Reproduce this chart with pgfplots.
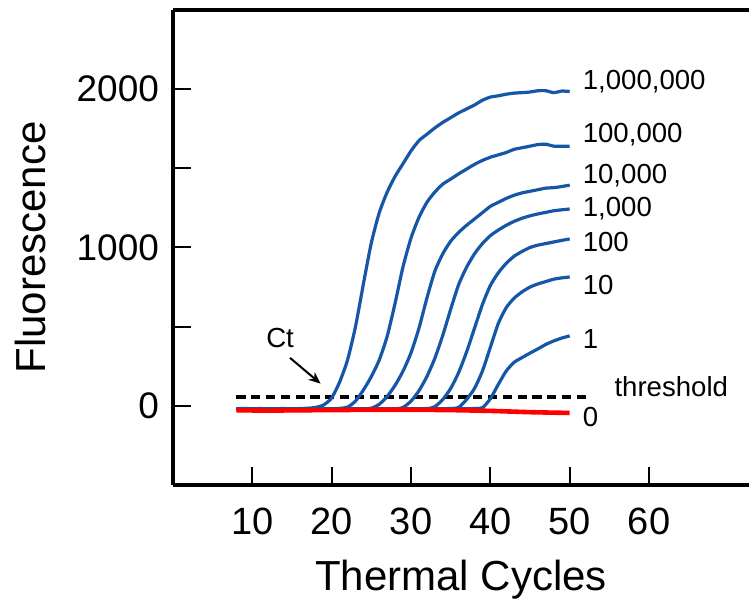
\documentclass[border=0pt]{standalone}
\usepackage{pgfplots}
\pgfplotsset{compat=1.18}
\usetikzlibrary{arrows.meta}
\usepackage{fontspec}
\setmainfont{Liberation Sans}
\definecolor{qblue}{RGB}{22,86,166}
\definecolor{qred}{RGB}{255,0,0}
\begin{document}
\begin{tikzpicture}
\begin{axis}[
  scale only axis, width=288pt, height=237.5pt,
  xmin=0, xmax=72.6, ymin=-500, ymax=2500,
  axis y line=left, y axis line style={-},
  axis line style={line width=1.6pt, black},
  xtick={10,20,30,40,50,60}, xtick pos=bottom,
  ytick={0,500,1000,1500,2000}, yticklabels={0,,1000,,2000}, ytick pos=left,
  tick align=inside, major tick length=9pt,
  tick style={black, line width=1pt},
  /pgf/number format/assume math mode=true,
  xticklabel style={font=\fontsize{19}{21}\selectfont, yshift=-8pt},
  yticklabel style={font=\fontsize{18.5}{20}\selectfont, xshift=-3.5pt},
  xlabel={Thermal Cycles}, ylabel={Fluorescence},
  xlabel style={font=\fontsize{21}{24}\selectfont, at={(axis description cs:0.5,-0.2)}, anchor=center},
  ylabel style={font=\fontsize{21}{24}\selectfont, at={(axis description cs:-0.248,0.5)}, anchor=center, rotate=0},
  clip=false,
]
\coordinate (bbsw) at (rel axis cs:0,0);
\coordinate (bbne) at (rel axis cs:1,1);
% threshold
\addplot[black, line width=1.8pt, dash pattern=on 4.6pt off 2.8pt] coordinates {(8,55) (52.6,55)};
% 1,000,000
\addplot[qblue, line width=1.6pt, smooth, tension=0.4] coordinates {
(8,-18) (9,-16) (10,-19) (11,-17) (12,-19) (13,-18) (14,-17) (15,-19) (16,-17) (17,-15) (18,-10) (19,6) (20,50) (21,150) (22,290) (23,500) (24,770) (25,1030) (26,1220) (27,1350) (28,1450) (29,1530) (30,1610) (31,1675) (32,1715) (33,1755) (34,1790) (35,1820) (36,1850) (37,1875) (38,1900) (39,1930) (40,1950) (41,1958) (42,1968) (43,1975) (44,1978) (45,1982) (46,1990) (47,1990) (48,1978) (49,1988) (50,1985)};
% 100,000
\addplot[qblue, line width=1.6pt, smooth, tension=0.4] coordinates {
(8,-18) (10,-19) (12,-18) (14,-19) (16,-18) (18,-19) (20,-18) (21,-16) (22,-8) (23,30) (24,100) (25,185) (26,290) (27,440) (28,650) (29,880) (30,1060) (31,1190) (32,1285) (33,1350) (34,1400) (35,1432) (36,1465) (37,1495) (38,1525) (39,1550) (40,1570) (41,1585) (42,1600) (43,1620) (44,1630) (45,1640) (46,1650) (47,1652) (48,1640) (49,1640) (50,1640)};
% 10,000
\addplot[qblue, line width=1.6pt, smooth, tension=0.4] coordinates {
(8,-18) (12,-19) (16,-18) (20,-19) (24,-18) (25,-15) (26,10) (27,60) (28,130) (29,220) (30,335) (31,490) (32,680) (33,850) (34,960) (35,1040) (36,1095) (37,1140) (38,1180) (39,1220) (40,1260) (41,1285) (42,1310) (43,1330) (44,1345) (45,1355) (46,1365) (47,1375) (48,1378) (49,1385) (50,1394)};
% 1,000
\addplot[qblue, line width=1.6pt, smooth, tension=0.4] coordinates {
(8,-18) (12,-19) (16,-18) (20,-19) (24,-18) (28,-18) (29,-10) (30,30) (31,95) (32,185) (33,300) (34,445) (35,610) (36,765) (37,875) (38,960) (39,1025) (40,1075) (41,1110) (42,1140) (43,1165) (44,1185) (45,1200) (46,1212) (47,1222) (48,1232) (49,1238) (50,1243)};
% 100
\addplot[qblue, line width=1.6pt, smooth, tension=0.4] coordinates {
(8,-18) (12,-19) (16,-18) (20,-19) (24,-18) (28,-19) (32,-17) (33,-5) (34,40) (35,110) (36,210) (37,340) (38,490) (39,640) (40,760) (41,840) (42,900) (43,945) (44,975) (45,1000) (46,1015) (47,1025) (48,1035) (49,1045) (50,1054)};
% 10
\addplot[qblue, line width=1.6pt, smooth, tension=0.4] coordinates {
(8,-18) (12,-19) (16,-18) (20,-19) (24,-18) (28,-19) (32,-18) (35,-17) (36,-10) (37,40) (38,110) (39,220) (40,370) (41,520) (42,620) (43,680) (44,720) (45,750) (46,770) (47,785) (48,800) (49,808) (50,814)};
% 1
\addplot[qblue, line width=1.6pt, smooth, tension=0.4] coordinates {
(8,-18) (12,-19) (16,-18) (20,-19) (24,-18) (28,-19) (32,-18) (36,-19) (38,-17) (39,-12) (40,45) (41,135) (42,220) (43,275) (44,305) (45,333) (46,360) (47,388) (48,410) (49,428) (50,442)};
% 0
\addplot[qred, line width=2.3pt, smooth, tension=0.4] coordinates {
(8,-28) (12,-30) (16,-28) (20,-27) (25,-25) (30,-25) (35,-27) (40,-32) (45,-40) (50,-45)};
% labels
\begin{scope}[every node/.style={anchor=west, inner sep=0pt, font=\fontsize{13.8}{15}\selectfont}]
\node at (axis cs:51.6,2050) {1,000,000};
\node at (axis cs:51.6,1716) {100,000};
\node at (axis cs:51.6,1451) {10,000};
\node at (axis cs:51.6,1243) {1,000};
\node at (axis cs:51.6,1035) {100};
\node at (axis cs:51.6,763) {10};
\node at (axis cs:51.6,423) {1};
\node at (axis cs:51.6,-69) {0};
\node at (axis cs:55.6,120) {threshold};
\node[anchor=center] at (axis cs:13.5,429) {Ct};
\end{scope}
\draw[-{Stealth[length=6pt,width=5pt]}, line width=1pt] (axis cs:14.75,303) -- (axis cs:18.6,140);
\end{axis}
\pgfresetboundingbox
\path[use as bounding box] ([xshift=-86.5pt,yshift=-57pt]bbsw) rectangle ([yshift=5pt]bbne);
\end{tikzpicture}
\end{document}
